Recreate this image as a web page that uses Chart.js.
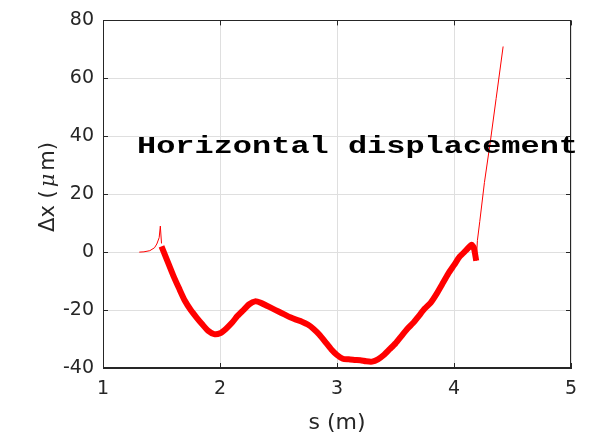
<!DOCTYPE html>
<html>
<head>
<meta charset="utf-8">
<script src="https://cdn.jsdelivr.net/npm/chart.js@4"></script>
<style>
	html, body { margin: 0; padding: 0; background: #fff; }
	#wrap { width: 599px; height: 438px; }
</style>
</head>
<body>
<div id="wrap"><canvas id="chart"></canvas></div>
<script>
// position s (m) and displacement dx (um)
const sStart = [1.31, 1.35, 1.40, 1.44, 1.46, 1.48, 1.49, 1.50];
const dxStart = [0, 0.1, 0.5, 1.5, 2.8, 5, 9, 3];

const sMid = [1.50, 1.55, 1.60, 1.65, 1.70, 1.75, 1.80, 1.85, 1.90, 1.95,
	2.00, 2.05, 2.10, 2.15, 2.20, 2.25, 2.30, 2.35, 2.40, 2.45,
	2.50, 2.55, 2.60, 2.65, 2.70, 2.75, 2.80, 2.85, 2.90, 2.95,
	3.00, 3.05, 3.10, 3.15, 3.20, 3.25, 3.30, 3.35, 3.40, 3.45,
	3.50, 3.55, 3.60, 3.65, 3.70, 3.75, 3.80, 3.85, 3.90, 3.95,
	4.00, 4.05, 4.10, 4.15, 4.17, 4.19];
const dxMid = [2, -3, -8, -12.5, -16.8, -20, -22.6, -25, -27.2, -28.3,
	-28, -26.5, -24.5, -22, -20, -18, -17, -17.5, -18.5, -19.5,
	-20.5, -21.5, -22.5, -23.3, -24, -25, -26.5, -28.5, -31, -33.5,
	-35.5, -36.8, -37, -37.2, -37.3, -37.7, -37.8, -37, -35.5, -33.5,
	-31.5, -29, -26.5, -24.5, -22, -19.5, -17.5, -14.5, -11, -7.5,
	-4.5, -1.5, 0.5, 2.5, 1.5, -3];

const sEnd = [4.19, 4.20, 4.22, 4.26, 4.31, 4.36, 4.42];
const dxEnd = [-3, 4, 10.5, 24, 38, 53, 71];

const xTicks = [1, 2, 3, 4, 5];
const yTicks = [-40, -20, 0, 20, 40, 60, 80];

const annotationText = 'Horizontal displacement';

function pts(xs, ys) {
	return xs.map((x, i) => ({ x: x, y: ys[i] }));
}

const inkColor = '#262626';
const sans = '"DejaVu Sans", sans-serif';

// MATLAB style box with inward ticks, y label with italic mu, and the text label
const boxPlugin = {
	id: 'box',
	afterDatasetsDraw(chart) {
		const ctx = chart.ctx;
		const a = chart.chartArea;
		const xs = chart.scales.x, ys = chart.scales.y;
		const len = 5;
		ctx.save();
		ctx.strokeStyle = inkColor;
		ctx.lineWidth = 1;
		ctx.beginPath();
		xTicks.forEach((t) => {
			let px = Math.round(xs.getPixelForValue(t)) + 0.5;
			ctx.moveTo(px, a.bottom); ctx.lineTo(px, a.bottom - len);
			ctx.moveTo(px, a.top); ctx.lineTo(px, a.top + len);
		});
		yTicks.forEach((t) => {
			let py = Math.round(ys.getPixelForValue(t)) + 0.5;
			ctx.moveTo(a.left, py); ctx.lineTo(a.left + len, py);
			ctx.moveTo(a.right, py); ctx.lineTo(a.right - len, py);
		});
		ctx.stroke();
		ctx.strokeRect(Math.round(a.left) + 0.5, Math.round(a.top) + 0.5,
			Math.round(a.right - a.left) - 1, Math.round(a.bottom - a.top) - 1);
		ctx.restore();

		// y axis label: "Δx (" + italic mu + "m)"
		ctx.save();
		const parts = [
			{ t: 'Δx (', f: '21px ' + sans },
			{ t: 'μ', f: 'italic 21px "DejaVu Serif", serif' },
			{ t: 'm)', f: '21px ' + sans },
		];
		let total = 0;
		parts.forEach((p) => { ctx.font = p.f; p.w = ctx.measureText(p.t).width; total += p.w; });
		total += 6;
		ctx.translate(54, 187);
		ctx.rotate(-Math.PI / 2);
		ctx.fillStyle = inkColor;
		ctx.textBaseline = 'alphabetic';
		let cx = -total / 2;
		parts.forEach((p, i) => {
			ctx.font = p.f;
			ctx.fillText(p.t, cx, 0);
			cx += p.w + (i < 2 ? 3 : 0);
		});
		ctx.restore();

		// annotation in bold monospace, stretched to the original width
		ctx.save();
		ctx.font = 'bold 24px "Liberation Mono", monospace';
		ctx.fillStyle = '#000';
		ctx.textBaseline = 'alphabetic';
		let w = ctx.measureText(annotationText).width;
		ctx.translate(137, 153);
		ctx.scale(441 / w, 1);
		ctx.fillText(annotationText, 0, 0);
		ctx.restore();
	}
};

new Chart(document.getElementById('chart'), {
	type: 'line',
	data: {
		datasets: [
			{ data: pts(sStart, dxStart), borderColor: '#ff0000', borderWidth: 1, pointRadius: 0, tension: 0 },
			{ data: pts(sMid, dxMid), borderColor: '#ff0000', borderWidth: 6, pointRadius: 0, tension: 0.2, borderJoinStyle: 'round' },
			{ data: pts(sEnd, dxEnd), borderColor: '#ff0000', borderWidth: 1, pointRadius: 0, tension: 0 },
		]
	},
	options: {
		responsive: true,
		maintainAspectRatio: false,
		animation: false,
		layout: { padding: { left: 0, top: 17, right: 28, bottom: 0 } },
		plugins: {
			legend: { display: false },
			tooltip: { enabled: false },
		},
		scales: {
			x: {
				type: 'linear', min: 1, max: 5,
				afterFit: (scale) => { scale.height = 70; },
				afterBuildTicks: (scale) => { scale.ticks = xTicks.map((v) => ({ value: v })); },
				grid: { color: '#dfdfdf', drawTicks: false },
				border: { color: inkColor },
				ticks: { padding: 10, color: inkColor, font: { family: sans, size: 19 } },
				title: { display: true, text: 's (m)', color: inkColor, padding: { top: 0, bottom: 2 },
					font: { family: sans, size: 22 } }
			},
			y: {
				type: 'linear', min: -40, max: 80,
				afterFit: (scale) => { scale.width = 103; },
				afterBuildTicks: (scale) => { scale.ticks = yTicks.map((v) => ({ value: v })); },
				grid: { color: '#dfdfdf', drawTicks: false },
				border: { color: inkColor },
				ticks: { padding: 9, color: inkColor, font: { family: sans, size: 19 } },
				title: { display: false }
			}
		}
	},
	plugins: [boxPlugin]
});
</script>
</body>
</html>
